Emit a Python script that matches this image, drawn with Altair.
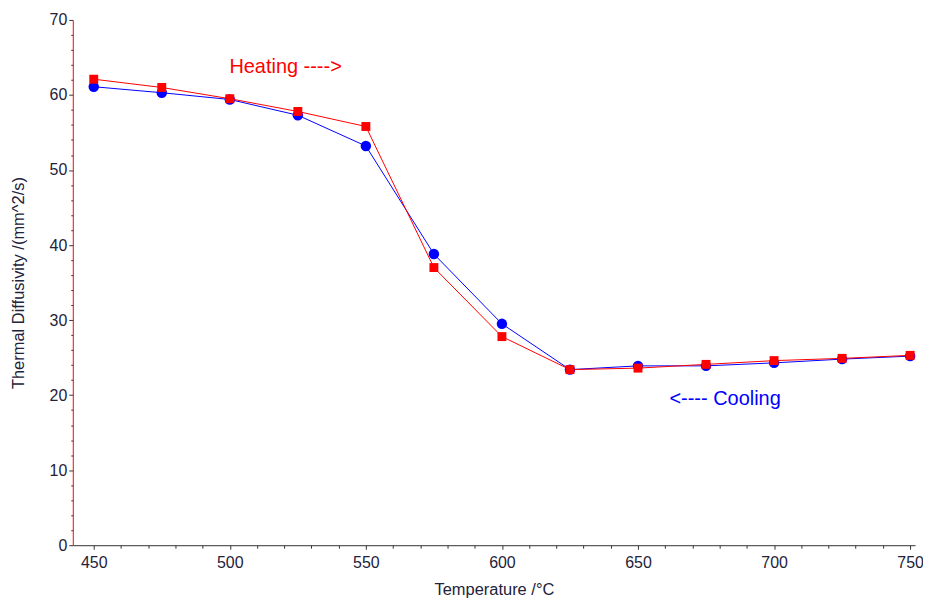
import altair as alt
import pandas as pd

temps = [450, 475, 500, 525, 550, 575, 600, 625, 650, 675, 700, 725, 750]
heating = [62.1, 61.0, 59.5, 57.8, 55.8, 37.0, 27.8, 23.4, 23.6, 24.1, 24.6, 24.9, 25.3]
cooling = [61.1, 60.3, 59.4, 57.3, 53.2, 38.8, 29.5, 23.4, 23.9, 23.9, 24.3, 24.8, 25.2]

ann_text = ["Heating ---->", "<---- Cooling"]
ann_x = [520.5, 682.0]
ann_y = [63.7, 19.5]
ann_color = ["#ff0000", "#0000ff"]

df_h = pd.DataFrame({"T": temps, "D": heating})
df_c = pd.DataFrame({"T": temps, "D": cooling})
df_a = pd.DataFrame({"T": ann_x, "D": ann_y, "label": ann_text, "c": ann_color})

xs = alt.Scale(domain=[442.3, 751.8], nice=False, zero=False)
ys = alt.Scale(domain=[0, 70], nice=False)

xaxis = alt.Axis(
    values=list(range(450, 751, 10)),
    labelExpr="datum.value % 50 === 0 ? datum.label : ''",
    title="Temperature /°C",
    titleFont="Liberation Sans", titleFontSize=16.5, titleFontWeight="normal",
    titleColor="#22223a", titlePadding=11,
    labelFont="Liberation Sans", labelFontSize=16, labelColor="#22223a",
    labelPadding=5,
    domainColor="#333333", tickColor="#333333",
    tickSize={"condition": {"test": "datum.value % 50 === 0", "value": 4}, "value": 3},
    grid=False, labelFlush=False, labelOverlap=False,
)
yaxis = alt.Axis(
    values=list(range(0, 71, 2)),
    labelExpr="datum.value % 10 === 0 ? datum.label : ''",
    title="Thermal Diffusivity /(mm^2/s)",
    titleFont="Liberation Sans", titleFontSize=16.5, titleFontWeight="normal",
    titleColor="#22223a", titlePadding=23,
    labelFont="Liberation Sans", labelFontSize=16, labelColor="#22223a",
    labelPadding=2,
    domainColor="#ff0000", tickColor="#333333",
    tickSize={"condition": {"test": "datum.value % 10 === 0", "value": 4}, "value": 2},
    grid=False, labelFlush=False, labelOverlap=False,
)

x = alt.X("T:Q", scale=xs, axis=xaxis)
y = alt.Y("D:Q", scale=ys, axis=yaxis)

cool_line = alt.Chart(df_c).mark_line(color="#0000ff", strokeWidth=1).encode(x=x, y=y)
cool_pts = alt.Chart(df_c).mark_point(shape="circle", filled=True, color="#0000ff", size=110, opacity=1).encode(x=x, y=y)
heat_line = alt.Chart(df_h).mark_line(color="#ff0000", strokeWidth=1).encode(x=x, y=y)
heat_pts = alt.Chart(df_h).mark_point(shape="square", filled=True, color="#ff0000", size=80, opacity=1).encode(x=x, y=y)

texts = alt.Chart(df_a).mark_text(font="Liberation Sans", fontSize=20).encode(
    x=x, y=y, text="label:N", color=alt.Color("c:N", scale=None)
)

chart = alt.layer(cool_line, cool_pts, heat_line, heat_pts, texts).properties(
    width=845, height=527,
    background="white",
    autosize=alt.AutoSizeParams(type="none"),
    padding={"left": 65, "top": 11, "right": 8, "bottom": 57},
).configure_view(stroke=None)

chart.save("out.html", embed_options={"renderer": "svg", "actions": False})
